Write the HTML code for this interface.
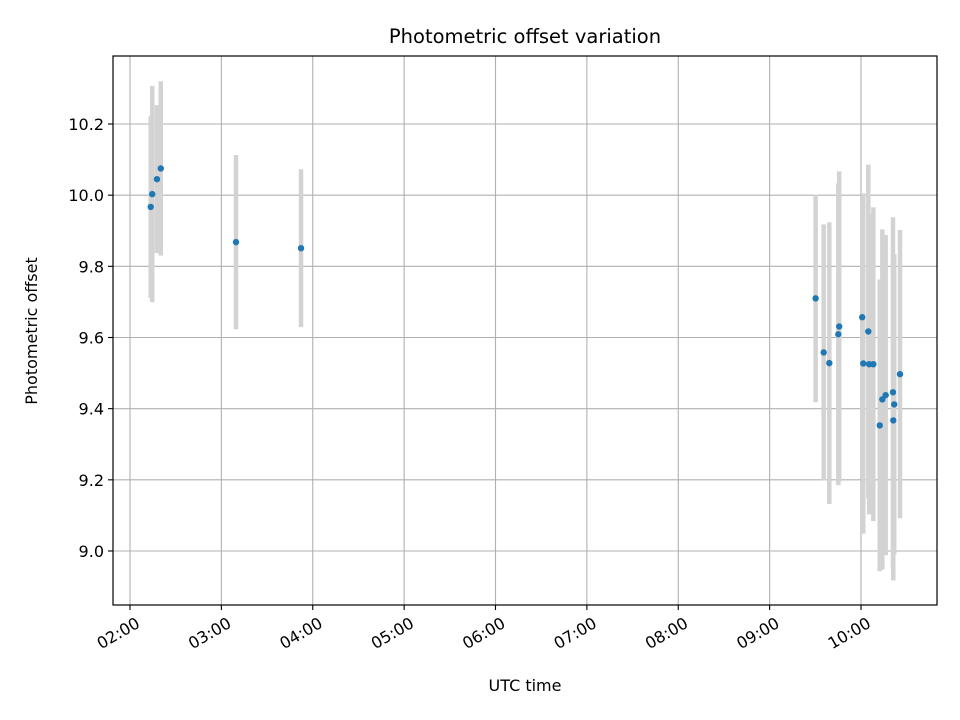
<!DOCTYPE html>
<html><head><meta charset="utf-8"><style>
body{margin:0;background:#fff;}
svg{display:block;font-family:"DejaVu Sans","Liberation Sans",sans-serif;}
</style></head><body>
<svg id="chart" width="960" height="720" viewBox="0 0 960 720">
<rect width="960" height="720" fill="#fff"/>
<g id="grid"></g>
<g id="errs"></g>
<g id="pts"></g>
<rect x="113" y="56" width="824" height="549" fill="none" stroke="#000" stroke-width="1.2"/>
<g id="ticks"></g>
<text x="525" y="43" font-size="19.5" text-anchor="middle">Photometric offset variation</text>
<text x="525" y="691" font-size="16" text-anchor="middle">UTC time</text>
<text transform="translate(37,331) rotate(-90)" font-size="16" text-anchor="middle">Photometric offset</text>
</svg>
<script>
// times in minutes since 00:00 UTC
const times = [133.6,134.6,137.7,140.2,189.6,232.3,570.2,575.5,579.2,585.1,585.7,600.8,601.5,604.8,605.4,608.1,612.3,614.0,616.2,621.0,621.2,621.8,625.6];
const offsets = [9.967,10.003,10.045,10.075,9.868,9.851,9.710,9.558,9.528,9.609,9.631,9.657,9.527,9.617,9.525,9.525,9.353,9.426,9.438,9.446,9.367,9.412,9.497];
const errors = [0.256,0.304,0.208,0.245,0.245,0.222,0.292,0.360,0.396,0.424,0.436,0.326,0.478,0.469,0.422,0.441,0.410,0.478,0.450,0.492,0.450,0.422,0.405];
const xTickMinutes = [120,180,240,300,360,420,480,540,600];
const xTickLabels = ["02:00","03:00","04:00","05:00","06:00","07:00","08:00","09:00","10:00"];
const yTicks = [9.0,9.2,9.4,9.6,9.8,10.0,10.2];
const yTickLabels = ["9.0","9.2","9.4","9.6","9.8","10.0","10.2"];

const NS="http://www.w3.org/2000/svg";
const X0=113,X1=937,Y0=56,Y1=605;
function xs(m){return 130+(m-120)*(91.375/60);}
function ys(v){return 551-(v-9.0)*(427/1.2);}
function mk(tag,attrs,parent){const e=document.createElementNS(NS,tag);for(const k in attrs)e.setAttribute(k,attrs[k]);parent.appendChild(e);return e;}
const grid=document.getElementById('grid'),ticks=document.getElementById('ticks'),errs=document.getElementById('errs'),pts=document.getElementById('pts');
xTickMinutes.forEach((m,i)=>{
  const x=xs(m);
  const g=mk('line',{x1:x,x2:x,y1:Y0,y2:Y1,stroke:'#b0b0b0','stroke-width':1.1},grid);
  
  
  const t=mk('line',{x1:x,x2:x,y1:Y1,y2:Y1+5,stroke:'#000','stroke-width':1.1},ticks);
  
  
  const l=mk('text',{transform:`translate(${x+5},${Y1+11}) rotate(-30)`,'font-size':16,'text-anchor':'end','dominant-baseline':'hanging'},ticks);
  l.textContent=xTickLabels[i];
  
  
});
yTicks.forEach((v,i)=>{
  const y=ys(v);
  const g=mk('line',{x1:X0,x2:X1,y1:y,y2:y,stroke:'#b0b0b0','stroke-width':1.1},grid);
  
  
  const t=mk('line',{x1:X0-5,x2:X0,y1:y,y2:y,stroke:'#000','stroke-width':1.1},ticks);
  
  
  const l=mk('text',{x:X0-9,y:y+6,'font-size':16,'text-anchor':'end'},ticks);
  l.textContent=yTickLabels[i];
  
  
});
times.forEach((m,i)=>{
  const x=xs(m);
  const e=mk('line',{x1:x,x2:x,y1:ys(offsets[i]+errors[i]),y2:ys(offsets[i]-errors[i]),stroke:'#d3d3d3','stroke-width':4.5},errs);
  
  
  const c=mk('circle',{cx:x,cy:ys(offsets[i]),r:3.2,fill:'#1f77b4'},pts);
  
  
});
</script>
</body></html>
